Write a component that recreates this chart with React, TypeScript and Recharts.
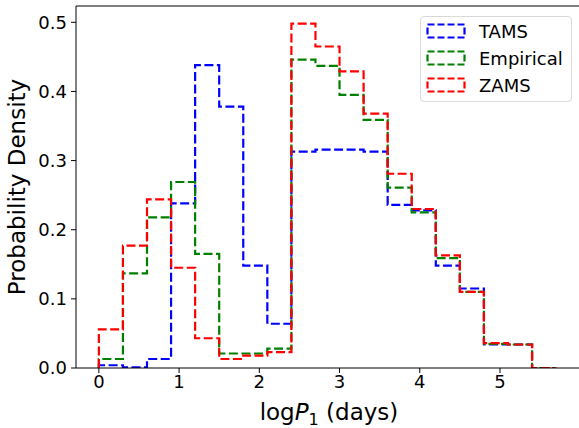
import { LineChart, Line, XAxis, YAxis, Label, ReferenceLine } from 'recharts';

const binEdges = [0, 0.3, 0.6, 0.9, 1.2, 1.5, 1.8, 2.1, 2.4, 2.7, 3.0, 3.3, 3.6, 3.9, 4.2, 4.5, 4.8, 5.1, 5.4, 5.7];

const tams = [0.004, 0.001, 0.013, 0.238, 0.438, 0.378, 0.148, 0.064, 0.313, 0.316, 0.316, 0.313, 0.236, 0.228, 0.148, 0.115, 0.034, 0.034, 0];
const empirical = [0.013, 0.137, 0.218, 0.269, 0.165, 0.021, 0.021, 0.028, 0.446, 0.437, 0.395, 0.359, 0.261, 0.225, 0.159, 0.110, 0.035, 0.034, 0];
const zams = [0.056, 0.177, 0.244, 0.145, 0.043, 0.013, 0.018, 0.023, 0.498, 0.465, 0.429, 0.368, 0.281, 0.230, 0.163, 0.110, 0.036, 0.034, 0];

const xTicks = [0, 1, 2, 3, 4, 5];
const yTicks = [0, 0.1, 0.2, 0.3, 0.4, 0.5];

const series = [
  { key: 'tams', name: 'TAMS', color: '#0000ff' },
  { key: 'empirical', name: 'Empirical', color: '#008000' },
  { key: 'zams', name: 'ZAMS', color: '#ff0000' },
];

// step outline: start from 0 at the first edge, then one point per bin edge
const data = [
  { x: 0, tams: 0, empirical: 0, zams: 0 },
  ...binEdges.map((x, i) => {
    const j = Math.min(i, tams.length - 1);
    return { x, tams: tams[j], empirical: empirical[j], zams: zams[j] };
  }),
];

const FONT = 'DejaVu Sans, sans-serif';
const DASH = '9 3.5';
const Y_MAX = 0.5236;

function XLabel() {
  return (
    <text x={329} y={420} textAnchor="middle" fontFamily={FONT} fontSize={23} fill="#000">
      log<tspan fontStyle="italic">P</tspan>
      <tspan fontSize={16} dy={5}>1</tspan>
      <tspan dy={-5}> (days)</tspan>
    </text>
  );
}

function YLabel() {
  return (
    <text x={25} y={187} transform="rotate(-90 25 187)" textAnchor="middle" fontFamily={FONT} fontSize={23} fill="#000">
      Probability Density
    </text>
  );
}

export default function App() {
  return (
    <div style={{ position: 'absolute', left: 0, top: 0, width: 579, height: 428, background: '#fff', overflow: 'hidden' }}>
      <LineChart width={579} height={428} data={data} margin={{ top: 6, right: 0, bottom: 30, left: 16 }}>
        <XAxis
          dataKey="x"
          type="number"
          domain={[-0.285, 5.985]}
          ticks={xTicks}
          allowDataOverflow
          stroke="#000"
          tickLine={{ stroke: '#000' }}
          tickSize={5}
          tickMargin={2}
          height={30}
          tick={{ fill: '#000', fontSize: 18, fontFamily: FONT }}
        >
          <Label content={<XLabel />} />
        </XAxis>
        <YAxis
          type="number"
          domain={[0, Y_MAX]}
          ticks={yTicks}
          allowDataOverflow
          width={60}
          stroke="#000"
          tickSize={5}
          tickMargin={4}
          tickFormatter={(v: number) => v.toFixed(1)}
          tick={{ fill: '#000', fontSize: 18, fontFamily: FONT }}
        >
          <Label content={<YLabel />} />
        </YAxis>
        <ReferenceLine y={Y_MAX} stroke="#000" strokeWidth={1} />
        {series.map((s) => (
          <Line
            key={s.key}
            type="stepAfter"
            dataKey={s.key}
            stroke={s.color}
            strokeWidth={2.2}
            strokeDasharray={DASH}
            dot={false}
            isAnimationActive={false}
          />
        ))}
      </LineChart>
      <div
        style={{
          position: 'absolute',
          left: 420,
          top: 16,
          width: 152,
          height: 86,
          border: '1px solid #d9d9d9',
          borderRadius: 4,
          background: 'rgba(255,255,255,0.8)',
          fontFamily: FONT,
          fontSize: 18,
          boxSizing: 'border-box',
        }}
      >
        {series.map((s, i) => (
          <div key={s.key} style={{ position: 'absolute', left: 5, top: 3 + i * 27, height: 22, display: 'flex', alignItems: 'center' }}>
            <svg width={40} height={22}>
              <rect x={1.5} y={4.5} width={37} height={13} fill="none" stroke={s.color} strokeWidth={2.2} strokeDasharray="7 3" />
            </svg>
            <span style={{ marginLeft: 13, color: '#000' }}>{s.name}</span>
          </div>
        ))}
      </div>
    </div>
  );
}
